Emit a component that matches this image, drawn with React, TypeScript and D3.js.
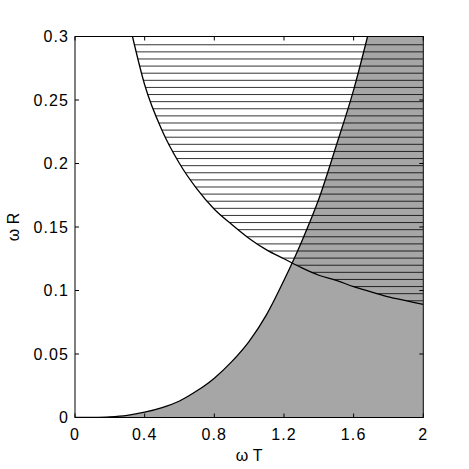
import React from 'react';
import * as d3 from 'd3';

const xTicks = [0, 0.4, 0.8, 1.2, 1.6, 2];
const xTickLabels = ['0', '0.4', '0.8', '1.2', '1.6', '2'];
const yTicks = [0, 0.05, 0.1, 0.15, 0.2, 0.25, 0.3];
const yTickLabels = ['0', '0.05', '0.1', '0.15', '0.2', '0.25', '0.3'];

// increasing boundary (gray region lies to its right / below)
const lowerX = [0, 0.1, 0.2, 0.3, 0.4, 0.5, 0.6, 0.7, 0.8, 0.9, 1.0, 1.1, 1.2, 1.3, 1.4, 1.5, 1.6, 1.68];
const lowerY = [0, 0.0001, 0.0005, 0.0017, 0.0042, 0.0078, 0.013, 0.021, 0.031, 0.044, 0.06, 0.081, 0.108, 0.138, 0.172, 0.214, 0.258, 0.3];

// decreasing boundary (hatched region lies above it)
const upperX = [0.33, 0.4, 0.5, 0.6, 0.7, 0.8, 0.9, 1.0, 1.1, 1.2, 1.3, 1.4, 1.5, 1.6, 1.7, 1.8, 1.9, 2.0];
const upperY = [0.3, 0.262, 0.226, 0.2, 0.18, 0.164, 0.152, 0.141, 0.132, 0.125, 0.118, 0.112, 0.108, 0.103, 0.099, 0.095, 0.092, 0.089];

const hatchTop = 0.2935;
const hatchStep = 0.0056;

const W = 469, H = 469;
const L = 75, R = 423.3, T = 36.5, B = 417.5;

export default function App() {
  const x = d3.scaleLinear().domain([0, 2]).range([L, R]);
  const y = d3.scaleLinear().domain([0, 0.3]).range([B, T]);

  const lowerPts: [number, number][] = lowerX.map((v, i) => [v, lowerY[i]]);
  const upperPts: [number, number][] = upperX.map((v, i) => [v, upperY[i]]);

  const line = d3.line<[number, number]>().x(d => x(d[0])).y(d => y(d[1])).curve(d3.curveMonotoneX);
  const lowerPath = line(lowerPts) || '';
  const upperPath = line(upperPts) || '';
  const grayPath = lowerPath + `L${x(2)},${y(0.3)}L${x(2)},${y(0)}Z`;

  const hatchArea = d3.area<[number, number]>()
    .x(d => x(d[0]))
    .y0(() => y(0.3))
    .y1(d => y(d[1]))
    .curve(d3.curveMonotoneX);
  const hatchClip = hatchArea(upperPts) || '';

  const hatchYs = d3.range(hatchTop, 0.05, -hatchStep);

  const font = '"Liberation Sans", Arial, Helvetica, sans-serif';
  const fs = 16;
  const ls = 1.1;

  return (
    <svg width={W} height={H} style={{ position: 'absolute', left: 0, top: 0, background: '#fff' }}>
      <defs>
        <clipPath id="plotClip">
          <rect x={L} y={T} width={R - L} height={B - T} />
        </clipPath>
        <clipPath id="hatchClip">
          <path d={hatchClip} />
        </clipPath>
      </defs>
      <rect x={0} y={0} width={W} height={H} fill="#fff" />
      <g clipPath="url(#plotClip)">
        <path d={grayPath} fill="#a6a6a6" stroke="none" />
        <g clipPath="url(#hatchClip)">
          {hatchYs.map((hy, i) => (
            <line key={i} x1={x(0)} x2={x(2)} y1={y(hy)} y2={y(hy)} stroke="#000" strokeWidth={0.8} />
          ))}
        </g>
        <path d={lowerPath} fill="none" stroke="#000" strokeWidth={1.3} />
        <path d={upperPath} fill="none" stroke="#000" strokeWidth={1.3} />
      </g>
      <rect x={L} y={T} width={R - L} height={B - T} fill="none" stroke="#000" strokeWidth={1} />
      {xTicks.map((t, i) => (
        <g key={'xt' + i}>
          <line x1={x(t)} x2={x(t)} y1={B} y2={B - 4} stroke="#000" strokeWidth={1} />
          <line x1={x(t)} x2={x(t)} y1={T} y2={T + 4} stroke="#000" strokeWidth={1} />
          <text x={x(t)} y={440} textAnchor="middle" fontFamily={font} fontSize={fs} letterSpacing={ls}>{xTickLabels[i]}</text>
        </g>
      ))}
      {yTicks.map((t, i) => (
        <g key={'yt' + i}>
          <line x1={L} x2={L + 4} y1={y(t)} y2={y(t)} stroke="#000" strokeWidth={1} />
          <line x1={R} x2={R - 4} y1={y(t)} y2={y(t)} stroke="#000" strokeWidth={1} />
          <text x={69} y={y(t) + 5.7} textAnchor="end" fontFamily={font} fontSize={fs} letterSpacing={ls}>{yTickLabels[i]}</text>
        </g>
      ))}
      <text x={(L + R) / 2} y={461} textAnchor="middle" fontFamily={font} fontSize={fs}>ω T</text>
      <text transform={`translate(19,${(T + B) / 2}) rotate(-90)`} textAnchor="middle" fontFamily={font} fontSize={fs}>ω R</text>
    </svg>
  );
}
